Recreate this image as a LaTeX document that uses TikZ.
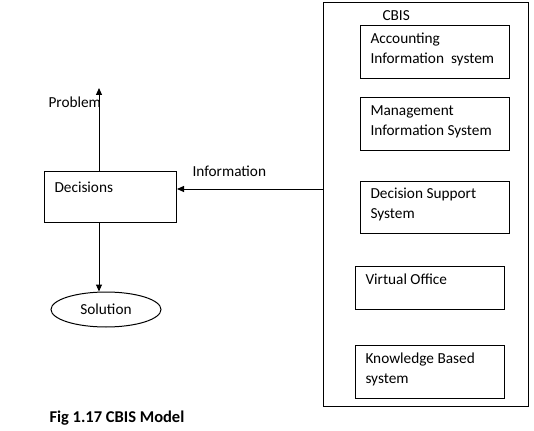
\documentclass[tikz,border=0pt]{standalone}
\usepackage{fontspec}
\setmainfont{Carlito}
\usetikzlibrary{shapes.geometric,positioning,calc,arrows.meta}

\begin{document}
\begin{tikzpicture}[x=1pt,y=-1pt,line width=1pt,
    txt/.style={font={\fontsize{15.3}{20}\selectfont}, inner sep=0pt},
    sysbox/.style={draw, anchor=north west, inner sep=0pt},
    arr/.style={-{Triangle[length=7pt,width=6pt]}}]
    \useasboundingbox (0,0) rectangle (534,430);

    % CBIS frame
    \node[sysbox, minimum width=205, minimum height=404] (cbis) at (323,2) {};
    \node[txt, anchor=base west] (cbis-txt) at (382,21) {CBIS};

    % Systems inside CBIS (\b = baseline of the last line)
    \foreach \n/\x/\y/\w/\h/\b/\label in {
        acc/360/25/149/53/39/{Accounting\\Information\ \ system},
        mis/360/97/149/53/39/{Management\\Information System},
        dss/360/181/149/52/37/{Decision Support\\System},
        vo/355/266/149/43/18/{Virtual Office},
        kbs/355/345/149/53/38/{Knowledge Based\\system}}
    {
        \node[sysbox, minimum width=\w, minimum height=\h] (\n) at (\x,\y) {};
        \node[txt, anchor=base west, align=left] (\n-txt) at ($(\n.north west)+(10,\b)$) {\label};
    }

    % Decisions and its arrows
    \node[sysbox, minimum width=132, minimum height=51] (dec) at (44,171) {};
    \node[txt, anchor=base west] (dec-txt) at ($(dec.north west)+(10,21)$) {Decisions};
    \coordinate (prob) at (99,88);
    \node[txt, anchor=base west] (prob-txt) at (48,108) {Problem};
    \node[draw, ellipse, txt, minimum width=110, minimum height=35] (sol) at (106,309.5) {Solution};

    \draw[arr] (dec.north -| prob) -- (prob);
    \draw[arr] (dec.south -| prob) -- (prob |- sol.north);
    \draw[arr] (cbis.west |- 0,189) -- (dec.east |- 0,189);
    \node[txt, anchor=base west] (info-txt) at (192,177) {Information};

    % Caption
    \node[inner sep=0pt, anchor=base west, font={\fontsize{16.5}{18}\selectfont\bfseries}] (cap) at (49,422) {Fig 1.17 CBIS Model};
\end{tikzpicture}
\end{document}
